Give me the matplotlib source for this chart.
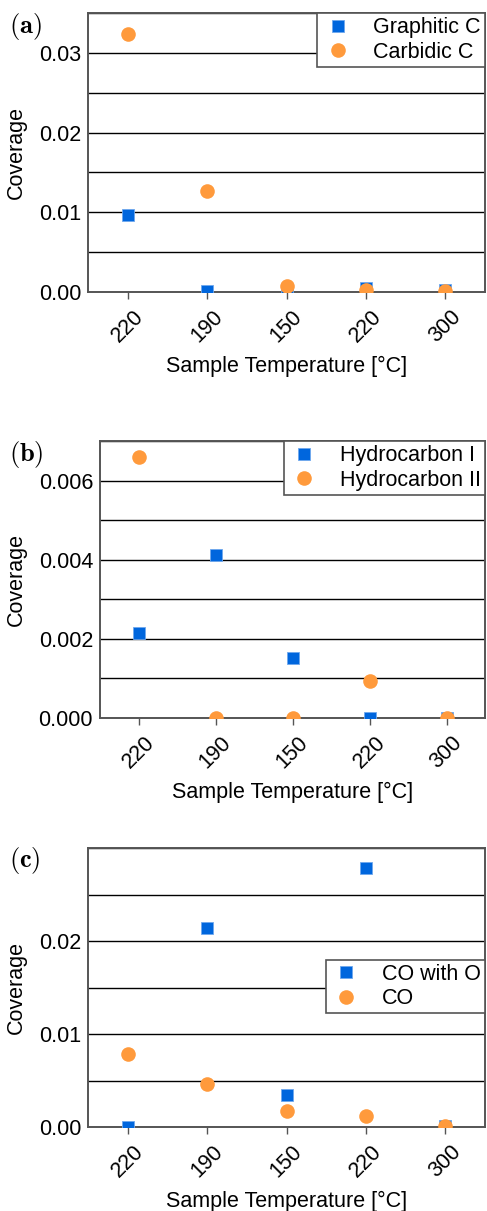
import numpy as np
import matplotlib
matplotlib.use('Agg')
import matplotlib.pyplot as plt
from matplotlib.ticker import MultipleLocator

plt.rcParams['font.family'] = ['Liberation Sans', 'DejaVu Sans']
plt.rcParams['mathtext.fontset'] = 'cm'

BLUE = '#0066dd'
ORANGE = '#ff9a3c'
SPINE = '#555555'
FS = 15.5

temps = ['220', '190', '150', '220', '300']

graphitic = [0.0096, 0.0001, 0.0000, 0.0005, 0.0002]
carbidic = [0.0324, 0.0127, 0.0007, 0.0002, 0.0001]

hydro_1 = [0.00215, 0.00413, 0.00151, 0.00001, 0.00001]
hydro_2 = [0.0066, 0.00001, 0.00001, 0.00093, 0.00001]

co_with_o = [0.0000, 0.0214, 0.0034, 0.0279, 0.0001]
co = [0.0078, 0.0046, 0.0017, 0.0012, 0.0001]

W, H = 487, 1211
fig = plt.figure(figsize=(W / 100, H / 100), dpi=100)


def px_axes(left, top, right, bottom):
    return fig.add_axes([left / W, 1 - bottom / H, (right - left) / W, (bottom - top) / H])


def panel(ax, s1, s2, labels, ymax, majors, minor, fmt, ylab_x, legend_kw):
    x = np.arange(len(temps))
    ax.plot(x, s1, 's', color=BLUE, markersize=8.5, markeredgecolor='#6fa8ee',
            markeredgewidth=0.6, label=labels[0], zorder=4)
    ax.plot(x, s2, 'o', color=ORANGE, markersize=10.5, markeredgewidth=0,
            label=labels[1], zorder=5)
    ax.set_xlim(-0.5, 4.5)
    ax.set_ylim(0, ymax)
    ax.set_xticks(x)
    ax.set_xticklabels(temps, rotation=45, fontsize=FS)
    ax.set_yticks(majors)
    ax.yaxis.set_minor_locator(MultipleLocator(minor))
    ax.yaxis.set_major_formatter(plt.FormatStrFormatter(fmt))
    ax.tick_params(axis='y', which='both', length=0, labelsize=FS, pad=5)
    ax.tick_params(axis='x', length=5, width=1, color=SPINE, labelsize=FS, pad=5)
    ax.grid(True, axis='y', which='both', color='black', linewidth=1)
    ax.set_axisbelow(True)
    for s in ax.spines.values():
        s.set_color(SPINE)
        s.set_linewidth(1.4)
    ax.set_xlabel('Sample Temperature [°C]', fontsize=FS, labelpad=7)
    ax.set_ylabel('Coverage', fontsize=FS)
    ax.yaxis.set_label_coords(ylab_x, 0.5)
    leg = ax.legend(frameon=True, fancybox=False, fontsize=FS, handletextpad=0.9,
                    borderpad=0.2, labelspacing=0.15, handlelength=1.5, **legend_kw)
    leg.get_frame().set_edgecolor(SPINE)
    leg.get_frame().set_linewidth(1.2)
    leg.get_frame().set_alpha(1)
    leg.set_zorder(10)
    return ax


ax_a = px_axes(88, 13, 485, 292)
panel(ax_a, graphitic, carbidic, ['Graphitic C', 'Carbidic C'], 0.035,
      [0, 0.01, 0.02, 0.03], 0.005, '%.2f', -0.154,
      dict(loc='upper right', borderaxespad=0))

ax_b = px_axes(100, 441, 485, 718)
panel(ax_b, hydro_1, hydro_2, ['Hydrocarbon I', 'Hydrocarbon II'], 0.007,
      [0, 0.002, 0.004, 0.006], 0.001, '%.3f', -0.19,
      dict(loc='upper right', borderaxespad=0))

ax_c = px_axes(88, 848, 485, 1127)
panel(ax_c, co_with_o, co, ['CO with O', 'CO'], 0.03,
      [0, 0.01, 0.02], 0.005, '%.2f', -0.154,
      dict(loc='upper right', bbox_to_anchor=(1.0, 0.6), borderaxespad=0))

for tag, ypx in [('a', 27), ('b', 454), ('c', 861)]:
    fig.text(9 / W, 1 - ypx / H, r'$\mathbf{(%s)}$' % tag, fontsize=19, va='center', ha='left')

fig.savefig('out.png', dpi=100)
